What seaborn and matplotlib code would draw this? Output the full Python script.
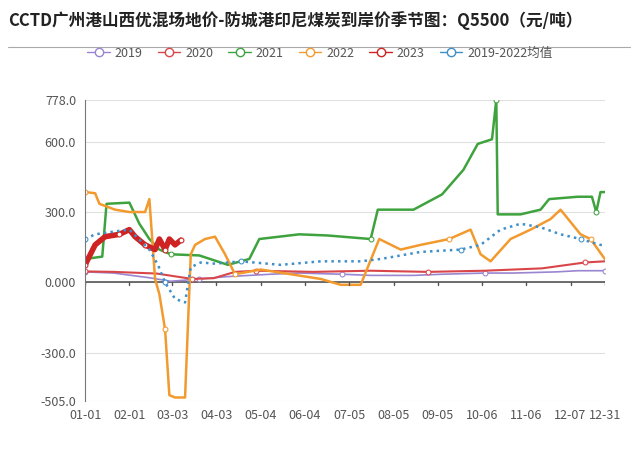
import matplotlib

matplotlib.use("Agg")

import matplotlib.pyplot as plt
import pandas as pd
import seaborn as sns
from matplotlib.lines import Line2D

# (day of year, value) points
days_2019 = [0, 20, 45, 60, 80, 100, 130, 150, 180, 200, 230, 250, 280, 300, 330, 345, 364]
vals_2019 = [45, 40, 20, 5, 15, 25, 35, 40, 35, 30, 30, 35, 40, 40, 45, 50, 50]

days_2020 = [0, 20, 50, 75, 90, 105, 120, 160, 200, 240, 280, 320, 350, 364]
vals_2020 = [47, 45, 38, 15, 18, 45, 50, 45, 50, 45, 50, 60, 85, 90]

days_2021 = [0, 12, 15, 31, 38, 45, 52, 60, 80, 100, 115, 122, 150, 170, 200, 205,
             230, 250, 265, 275, 285, 288, 289, 305, 319, 325, 345, 355, 358, 361, 364]
vals_2021 = [100, 110, 335, 340, 250, 185, 140, 120, 115, 75, 100, 185, 205, 200, 185, 310,
             310, 375, 480, 590, 610, 778, 290, 290, 310, 355, 365, 365, 300, 385, 385]

days_2022 = [0, 7, 10, 21, 31, 42, 45, 49, 52, 56, 59, 63, 70, 74, 77, 84, 91, 98, 105,
             123, 144, 165, 179, 193, 206, 221, 235, 255, 270, 277, 284, 298, 312, 326, 333,
             347, 354, 364]
vals_2022 = [385, 380, 335, 310, 300, 300, 355, 15, -50, -200, -480, -490, -490, 120, 160,
             185, 195, 120, 35, 55, 35, 15, -10, -10, 185, 140, 160, 185, 225, 120, 90, 185,
             225, 270, 310, 205, 185, 100]

days_2023 = [0, 7, 14, 24, 31, 35, 42, 49, 52, 56, 59, 63, 67]
vals_2023 = [75, 160, 195, 205, 225, 195, 160, 140, 185, 140, 185, 160, 180]

days_avg = [0, 7, 24, 31, 45, 51, 56, 63, 70, 74, 81, 91, 109, 137, 165, 193, 207, 235,
            263, 277, 291, 305, 319, 333, 347, 361, 364]
vals_avg = [185, 205, 220, 225, 140, 75, 0, -70, -85, 65, 85, 80, 90, 75, 90, 90, 100, 130,
            140, 160, 225, 250, 235, 205, 185, 160, 160]

years = ["2019", "2020", "2021", "2022", "2023", "2019-2022均值"]
colors = ["#9a85d0", "#d9464a", "#3ea33e", "#f39a2e", "#cf2222", "#3f8fc8"]
tick_days = [0, 31, 61, 92, 123, 154, 185, 216, 247, 278, 309, 340, 364]
tick_labels = ["01-01", "02-01", "03-03", "04-03", "05-04", "06-04", "07-05",
               "08-05", "09-05", "10-06", "11-06", "12-07", "12-31"]

series = [(days_2019, vals_2019), (days_2020, vals_2020), (days_2021, vals_2021),
          (days_2022, vals_2022), (days_2023, vals_2023), (days_avg, vals_avg)]
df = pd.concat(
    [pd.DataFrame({"day": d, "value": v, "year": y}) for (d, v), y in zip(series, years)]
)

sns.set_style("white")
plt.rcParams["font.family"] = ["Noto Sans CJK SC", "DejaVu Sans"]

fig = plt.figure(figsize=(6.4, 4.62), dpi=100)
ax = fig.add_axes([0.133, 0.132, 0.812, 0.652])

widths = [1.2, 1.5, 1.8, 1.8, 4.0, 1.8]
for y, c, w in zip(years, colors, widths):
    sub = df[df["year"] == y]
    sns.lineplot(data=sub, x="day", y="value", ax=ax, color=c, linewidth=w,
                 linestyle=":" if y == "2019-2022均值" else "-",
                 marker="o", markersize=3.5, markerfacecolor="white", markeredgecolor=c,
                 markevery=max(1, len(sub) // 4), legend=False)

ax.set_xlim(0, 364)
ax.set_ylim(-505, 778)
yticks = [-505, -300, 0, 300, 600, 778]
ax.set_yticks(yticks)
ax.set_yticklabels(["-505.0", "-300.0", "0.000", "300.0", "600.0", "778.0"],
                   fontsize=9, color="#555555")
ax.set_xticks(tick_days)
ax.set_xticklabels(tick_labels, fontsize=9, color="#555555")
ax.tick_params(axis="x", length=0, pad=6)
ax.tick_params(axis="y", length=3, color="#888888")
ax.grid(axis="y", color="#e0e0e0", linewidth=0.8)
ax.axhline(0, color="#555555", linewidth=1.2, zorder=1)
for d in tick_days:
    ax.plot([d, d], [0, -12], color="#555555", linewidth=1)
for s in ["top", "right", "bottom"]:
    ax.spines[s].set_visible(False)
ax.spines["left"].set_color("#777777")
ax.set_xlabel("")
ax.set_ylabel("")

fig.text(0.012, 0.955, "CCTD广州港山西优混场地价-防城港印尼煤炭到岸价季节图：Q5500（元/吨）",
         fontsize=12, fontweight="bold", va="center", color="#222222")
fig.add_artist(Line2D([0.012, 0.985], [0.898, 0.898], color="#aaaaaa", linewidth=0.8))

handles = [Line2D([0], [0], color=c, linewidth=1, marker="o", markersize=6,
                  markerfacecolor="white", markeredgecolor=c) for c in colors]
fig.legend(handles, years, loc="center", bbox_to_anchor=(0.5, 0.885), ncol=6,
           frameon=False, fontsize=9, handlelength=1.8, columnspacing=1.2,
           handletextpad=0.4, labelcolor="#555555")

fig.savefig("out.png", dpi=100)
